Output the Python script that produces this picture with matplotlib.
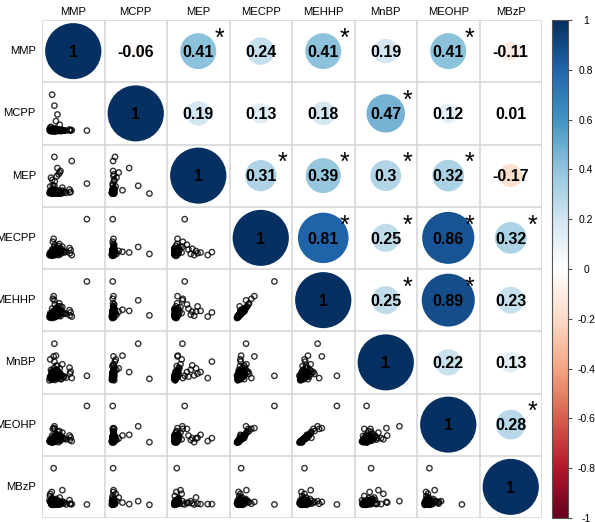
"""Matriz de correlación de metabolitos de ftalatos: círculos + dispersión."""
import matplotlib
matplotlib.use("Agg")
import matplotlib.pyplot as plt
from matplotlib.patches import Circle
from matplotlib.colors import LinearSegmentedColormap, Normalize
from matplotlib.colorbar import ColorbarBase
import numpy as np

plt.rcParams["font.family"] = ["Liberation Sans", "DejaVu Sans"]

names = ["MMP", "MCPP", "MEP", "MECPP", "MEHHP", "MnBP", "MEOHP", "MBzP"]

# coeficientes (triángulo superior, fila por fila)
corr_upper = [
    [1, -0.06, 0.41, 0.24, 0.41, 0.19, 0.41, -0.11],
    [1, 0.19, 0.13, 0.18, 0.47, 0.12, 0.01],
    [1, 0.31, 0.39, 0.3, 0.32, -0.17],
    [1, 0.81, 0.25, 0.86, 0.32],
    [1, 0.25, 0.89, 0.23],
    [1, 0.22, 0.13],
    [1, 0.28],
    [1],
]
# celdas con p < 0.05
signif = [(0, 2), (0, 4), (0, 6), (1, 5), (2, 3), (2, 4), (2, 5), (2, 6),
          (3, 4), (3, 5), (3, 6), (3, 7), (4, 5), (4, 6), (6, 7)]

# concentraciones relativas por muestra (escala 0-100 por metabolito)
mmp   = [100, 12, 8, 14, 22, 18, 14, 60, 30, 25, 20, 15, 10, 12, 54, 57, 55, 5, 8, 28, 3, 35,
         10, 15, 22, 6, 18, 26, 12, 30, 4, 20, 36, 8, 16, 24, 40, 2, 13, 32, 9, 19, 45, 27, 7, 14, 1, 21,
         11, 17, 23, 9, 28, 14, 19, 6, 33, 12, 21, 3, 25, 16, 10, 29, 7, 38, 18, 13, 24, 5, 20, 31,
         15, 11, 26, 8]
mcpp  = [2, 3, 100, 70, 46, 28, 8, 3, 3, 5, 4, 6, 2, 4, 5, 3, 2, 12, 6, 18, 10, 4,
         2, 1, 3, 0, 4, 2, 5, 1, 3, 6, 2, 1, 0, 4, 2, 2, 7, 3, 1, 5, 2, 3, 4, 2, 6, 1,
         2, 3, 1, 4, 2, 0, 3, 2, 1, 5, 2, 1, 4, 2, 3, 1, 3, 2, 4, 1, 3, 2, 6, 2,
         1, 4, 3, 2]
mep   = [28, 7, 1, 22, 70, 10, 100, 89, 62, 53, 48, 34, 23, 9, 12, 6, 4, 44, 38, 58, 20, 17,
         4, 6, 3, 2, 8, 5, 10, 2, 7, 1, 9, 12, 3, 5, 6, 2, 14, 1, 5, 11, 3, 8, 6, 1, 3, 7,
         3, 5, 4, 2, 6, 4, 9, 5, 3, 7, 2, 8, 4, 6, 1, 5, 10, 4, 3, 7, 2, 4, 6, 8,
         2, 5, 1, 9]
mecpp = [100, 12, 6, 25, 10, 12, 11, 3, 8, 3, 20, 31, 39, 47, 22, 16, 8, 6, 18, 14, 10, 26,
         5, 8, 12, 3, 15, 18, 10, 6, 2, 22, 14, 9, 4, 28, 10, 7, 16, 20, 1, 24, 12, 33, 5, 17, 3, 9,
         7, 11, 13, 4, 19, 6, 10, 8, 15, 12, 9, 5, 21, 7, 11, 17, 6, 13, 4, 14, 10, 9, 16, 11,
         3, 18, 8, 12]
mehhp = [100, 16, 10, 50, 22, 25, 18, 7, 34, 9, 20, 39, 54, 61, 24, 18, 10, 12, 28, 20, 16, 32,
         9, 12, 17, 6, 20, 24, 14, 8, 4, 28, 18, 13, 7, 34, 15, 10, 19, 25, 3, 30, 14, 42, 8, 22, 5, 11,
         11, 15, 18, 8, 23, 10, 13, 12, 19, 16, 12, 9, 26, 9, 14, 21, 10, 16, 7, 17, 13, 13, 20, 14,
         5, 22, 11, 15]
mnbp  = [14, 26, 6, 100, 24, 68, 52, 8, 20, 15, 42, 24, 8, 66, 36, 25, 20, 30, 12, 34, 58, 45,
         10, 14, 8, 4, 18, 22, 28, 6, 12, 16, 10, 20, 3, 26, 12, 8, 35, 5, 15, 30, 9, 19, 22, 11, 2, 40,
         9, 13, 17, 6, 21, 11, 24, 16, 14, 19, 7, 13, 25, 10, 5, 18, 26, 12, 8, 20, 15, 11, 23, 16,
         7, 14, 9, 21]
meohp = [100, 14, 2, 45, 22, 20, 13, 5, 14, 2, 13, 38, 38, 40, 20, 15, 8, 8, 20, 12, 10, 28,
         5, 9, 12, 3, 14, 17, 10, 6, 2, 22, 13, 8, 4, 30, 11, 6, 16, 19, 1, 24, 10, 32, 5, 16, 4, 9,
         7, 10, 13, 4, 18, 6, 11, 7, 14, 12, 8, 5, 20, 7, 10, 16, 6, 12, 4, 13, 9, 8, 15, 10,
         3, 17, 7, 11]
mbzp  = [1, 100, 0, 10, 2, 6, 2, 2, 3, 1, 4, 6, 3, 8, 13, 2, 3, 10, 5, 20, 30, 40,
         5, 8, 3, 1, 12, 6, 15, 2, 7, 4, 9, 18, 2, 11, 5, 24, 3, 7, 4, 16, 1, 8, 35, 0, 12, 2,
         6, 4, 9, 3, 5, 10, 7, 2, 3, 13, 1, 8, 6, 11, 4, 2, 14, 6, 3, 9, 1, 5, 7, 4,
         2, 12, 3, 8]
series = [mmp, mcpp, mep, mecpp, mehhp, mnbp, meohp, mbzp]

# paleta RdBu de corrplot (blanco en el centro)
cmap = LinearSegmentedColormap.from_list("rdbu", [
    "#67001F", "#B2182B", "#D6604D", "#F4A582", "#FDDBC7", "#FFFFFF",
    "#D1E5F0", "#92C5DE", "#4393C3", "#2166AC", "#053061"])
norm = Normalize(-1, 1)

W_PX, H_PX = 595, 522
fig = plt.figure(figsize=(W_PX / 100, H_PX / 100), dpi=100)
gx0, gx1, gy0, gy1 = 42, 542, 20, 518
L, B = gx0 / W_PX, (H_PX - gy1) / H_PX
W, H = (gx1 - gx0) / W_PX, (gy1 - gy0) / H_PX
n = len(names)

ax = fig.add_axes([L, B, W, H])
ax.set_xlim(0, n)
ax.set_ylim(n, 0)
ax.axis("off")
for k in range(n + 1):
    ax.axhline(k, color="#d4d4d4", lw=1.1, zorder=1)
    ax.axvline(k, color="#d4d4d4", lw=1.1, zorder=1)

for i, row in enumerate(corr_upper):
    for off, r in enumerate(row):
        j = i + off
        ax.add_patch(Circle((j + 0.5, i + 0.5), 0.45 * np.sqrt(abs(r)),
                            facecolor=cmap(norm(r)), edgecolor="none", zorder=2))
        ax.text(j + 0.5, i + 0.52, f"{r:g}", ha="center", va="center",
                fontsize=11.5, fontweight="bold", color="black", zorder=3)
for i, j in signif:
    ax.text(j + 0.84, i + 0.3, "*", ha="center", va="center",
            fontsize=18, color="black", zorder=3)

# etiquetas
for k, nm in enumerate(names):
    fig.text((gx0 + (k + 0.5) * (gx1 - gx0) / n) / W_PX, (H_PX - 12) / H_PX, nm,
             ha="center", va="center", fontsize=8.1)
    fig.text(36 / W_PX, (H_PX - gy0 - (k + 0.5) * (gy1 - gy0) / n) / H_PX, nm,
             ha="right", va="center", fontsize=8.1)


def lims(v, lo, hi):
    v = np.asarray(v, float)
    rng = v.max() - v.min()
    return v.min() - lo * rng, v.max() + hi * rng


# triángulo inferior: dispersión de cada par
for i in range(n):
    for j in range(i):
        sa = fig.add_axes([L + j * W / n, B + (n - 1 - i) * H / n, W / n, H / n])
        sa.scatter(series[j], series[i], s=15, facecolors="none",
                   edgecolors="black", linewidths=1.0, alpha=0.8)
        sa.set_xlim(*lims(series[j], 0.2, 0.47))
        sa.set_ylim(*lims(series[i], 0.36, 0.34))
        sa.axis("off")

cax = fig.add_axes([552 / W_PX, B, 16 / W_PX, H])
cb = ColorbarBase(cax, cmap=cmap, norm=norm, ticks=np.linspace(-1, 1, 11))
cb.outline.set_edgecolor("#555555")
cb.outline.set_linewidth(0.8)
cax.set_yticklabels([f"{t:g}" for t in np.round(np.linspace(-1, 1, 11), 1)])
cax.tick_params(length=3, width=0.8, color="#555555", labelsize=7.5, pad=10)
for lbl in cax.get_yticklabels():
    lbl.set_ha("center")

fig.savefig("out.png", dpi=100, facecolor="white")
